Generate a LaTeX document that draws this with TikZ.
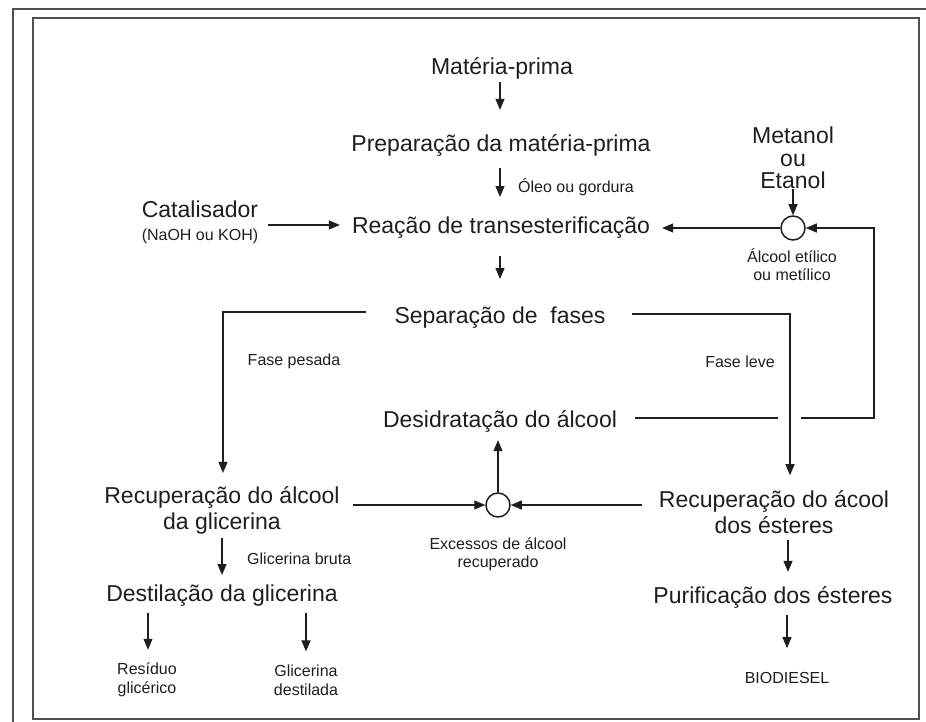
\documentclass[tikz,border=0pt]{standalone}
\usepackage{fontspec}
\setmainfont{Liberation Sans}
\usetikzlibrary{arrows.meta,calc}
\definecolor{ink}{HTML}{1E1E1E}
\definecolor{framec}{HTML}{505050}
\tikzset{
  big/.style={font=\fontsize{23}{26}\selectfont, inner sep=0pt, align=center, text=ink},
  small/.style={font=\fontsize{16}{19}\selectfont, inner sep=0pt, align=center, text=ink},
  arr/.style={-{Triangle[length=11pt,width=9pt]}, line width=1.1pt, draw=ink},
  ln/.style={line width=1.1pt, draw=ink},
  circ/.style={circle, draw=ink, line width=1.5pt, minimum size=24pt, inner sep=0pt},
  framel/.style={draw=framec, line width=1.8pt}
}
\begin{document}
\begin{tikzpicture}[x=1pt,y=-1pt]
\useasboundingbox (0,0) rectangle (926,722);
\draw[framel] (13,722) -- (13,9) -- (926,9);
\draw[framel] (33,18) rectangle (919,719);

% nodes
\node[big] (mp) at (502,68) {Matéria-prima};
\node[big] (prep) at (501,145) {Preparação da matéria-prima};
\node[small, anchor=west] (oleo) at (518,187) {Óleo ou gordura};
\node[big] (reac) at (501,228) {Reação de transesterificação};
\node[big] (cat) at (200,209) {Catalisador};
\node[small] (naoh) at (200,236) {(NaOH ou KOH)};
\node[big, font=\fontsize{23}{22.5}\selectfont] (met) at (793,158) {Metanol\\ou\\Etanol};
\node[circ] (c1) at (793,228) {};
\node[small, font=\fontsize{16}{18}\selectfont] (alc) at (792,265) {Álcool etílico\\ou metílico};
\node[big] (sep) at (500,318) {Separação de\ \ fases};
\node[small] (pes) at (294,361) {Fase pesada};
\node[small] (lev) at (740,362) {Fase leve};
\node[big] (des) at (500,421) {Desidratação do álcool};
\node[circ] (c2) at (498,505) {};
\node[small, font=\fontsize{16}{18}\selectfont] (exc) at (498,554) {Excessos de álcool\\recuperado};
\node[big] (recl) at (222,510) {Recuperação do álcool\\da glicerina};
\node[big] (recr) at (774,512) {Recuperação do ácool\\dos ésteres};
\node[small, anchor=west] (gb) at (247,559) {Glicerina bruta};
\node[big] (dest) at (222,596) {Destilação da glicerina};
\node[small] (res) at (147,680) {Resíduo\\glicérico};
\node[small] (gd) at (306,680) {Glicerina\\destilada};
\node[big] (pur) at (773,597) {Purificação dos ésteres};
\node[small] (bio) at (787,678) {BIODIESEL};

\coordinate (gapL) at (778,418);
\coordinate (gapR) at (801,418);
\coordinate (loopx) at (874,0);

% connectors
\draw[arr] ($(mp.south)+(-2,3)$) -- ($(prep.north)+(-1,-24)$);
\draw[arr] ($(prep.south)+(-1,12)$) -- ($(reac.north)+(-1,-20)$);
\draw[arr] ($(cat.east |- reac.west)+(10,-3)$) -- ($(reac.west)+(-12,-3)$);
\draw[arr] (met.south -| c1.north) -- (c1.north);
\draw[arr] (c1.west) -- ($(reac.east)+(12,0)$);
\draw[ln] ($(des.east)+(18,-3)$) -- (gapL);
\draw[arr] (gapR) -- (gapR -| loopx) |- (c1.east);
\draw[arr] ($(reac.south)+(-1,17)$) -- ($(sep.north)+(0,-28)$);
\draw[arr] ($(sep.west)+(-28,-6)$) -| ($(recl.north)+(1,-13)$);
\draw[arr] ($(sep.east)+(26,-4)$) -| ($(recr.north)+(16,-15)$);
\draw[arr] (c2.north) -- ($(des.south)+(-2,8)$);
\draw[arr] ($(recl.east)+(13,-5)$) -- (c2.west);
\draw[arr] ($(recr.west)+(-17,-7)$) -- (c2.east);
\draw[arr] ($(recl.south)+(0,4)$) -- ($(dest.north)+(0,-10)$);
\draw[arr] ($(dest.south -| res.north)+(1,6)$) -- ($(res.north)+(1,-13)$);
\draw[arr] ($(dest.south -| gd.north)+(0,6)$) -- ($(gd.north)+(0,-13)$);
\draw[arr] ($(recr.south)+(14,6)$) -- ($(pur.north)+(15,-14)$);
\draw[arr] ($(pur.south)+(14,7)$) -- ($(bio.north)+(0,-24)$);
\end{tikzpicture}
\end{document}
